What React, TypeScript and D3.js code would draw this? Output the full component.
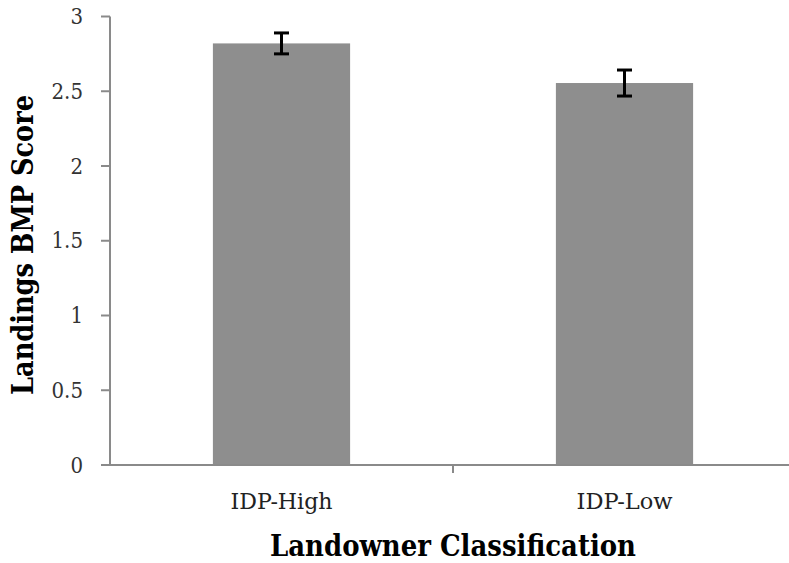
import React from "react";
import * as d3 from "d3";

const categories = ["IDP-High", "IDP-Low"];
const values = [2.82, 2.555];
const errors = [0.07, 0.087];
const yTicks = [0, 0.5, 1, 1.5, 2, 2.5, 3];
const yTickLabels = ["0", "0.5", "1", "1.5", "2", "2.5", "3"];
const xTitle = "Landowner Classification";
const yTitle = "Landings BMP Score";

const W = 789;
const H = 563;
const FONT = "'DejaVu Serif Condensed', 'Liberation Serif', serif";

export default function App() {
  const x = d3
    .scaleBand<string>()
    .domain(categories)
    .range([110, 796])
    .paddingInner(0.6)
    .paddingOuter(0.3);
  const y = d3.scaleLinear().domain([0, 3]).range([465, 16.5]);
  const step = x.step();
  const axisColor = "#8a8a8a";

  return (
    <svg
      width={W}
      height={H}
      style={{ position: "absolute", left: 0, top: 0, background: "#fff" }}
    >
      {categories.map((c, i) => (
        <rect
          key={c}
          x={x(c)}
          y={y(values[i])}
          width={x.bandwidth()}
          height={y(0) - y(values[i])}
          fill="#8e8e8e"
        />
      ))}
      {categories.map((c, i) => {
        const cx = (x(c) as number) + x.bandwidth() / 2;
        const t = y(values[i] + errors[i]);
        const b = y(values[i] - errors[i]);
        return (
          <g key={c + "e"} stroke="#000" strokeWidth={3}>
            <line x1={cx} x2={cx} y1={t} y2={b} />
            <line x1={cx - 7.5} x2={cx + 7.5} y1={t} y2={t} />
            <line x1={cx - 7.5} x2={cx + 7.5} y1={b} y2={b} />
          </g>
        );
      })}
      <line x1={110} x2={110} y1={y(3)} y2={y(0)} stroke={axisColor} strokeWidth={2} />
      {yTicks.map((v, i) => (
        <g key={v}>
          <line x1={101} x2={110} y1={y(v)} y2={y(v)} stroke={axisColor} strokeWidth={2} />
          <text
            x={83}
            y={y(v)}
            dy="0.35em"
            textAnchor="end"
            fontFamily={FONT}
            fontSize={22}
            fill="#333"
          >
            {yTickLabels[i]}
          </text>
        </g>
      ))}
      <line x1={109} x2={W} y1={y(0)} y2={y(0)} stroke={axisColor} strokeWidth={2} />
      {[1].map((k) => {
        const tx = 110 + k * step;
        return (
          <line key={k} x1={tx} x2={tx} y1={y(0)} y2={y(0) + 8} stroke={axisColor} strokeWidth={2} />
        );
      })}
      {categories.map((c, i) => (
        <text
          key={c + "l"}
          x={(x(c) as number) + x.bandwidth() / 2}
          y={509}
          textAnchor="middle"
          fontFamily={FONT}
          fontSize={23}
          fill="#222"
          textLength={i === 0 ? 102 : 96}
          lengthAdjust="spacingAndGlyphs"
        >
          {c}
        </text>
      ))}
      <text
        x={453}
        y={556}
        textAnchor="middle"
        fontFamily={FONT}
        fontWeight="bold"
        fontSize={29}
        fill="#000"
        textLength={366}
        lengthAdjust="spacingAndGlyphs"
      >
        {xTitle}
      </text>
      <text
        transform="translate(33,245) rotate(-90)"
        textAnchor="middle"
        fontFamily={FONT}
        fontWeight="bold"
        fontSize={29}
        fill="#000"
        textLength={300}
        lengthAdjust="spacingAndGlyphs"
      >
        {yTitle}
      </text>
    </svg>
  );
}
